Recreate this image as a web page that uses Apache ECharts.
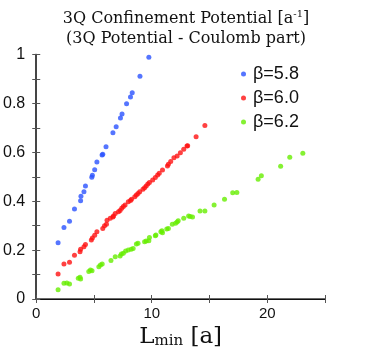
<!DOCTYPE html>
<html>
<head>
<meta charset="utf-8">
<script src="https://cdn.jsdelivr.net/npm/echarts@6/dist/echarts.min.js"></script>
<style>html,body{margin:0;padding:0;background:#fff}#c{width:367px;height:354px}</style>
</head>
<body>
<div id="c"></div>
<script>
const seriesNames = ['β=5.8', 'β=6.0', 'β=6.2'];
const seriesColors = ['#2a52ff', '#ff1212', '#66ee00'];
const xTickLabels = ['0', '10', '20'];
const yTickLabels = ['0', '0.2', '0.4', '0.6', '0.8', '1'];

const beta58 = [
  [1.89,0.230],[2.40,0.292],[2.88,0.318],[3.31,0.368],[3.84,0.402],[3.87,0.420],
  [4.13,0.439],[4.26,0.462],[4.81,0.498],[4.86,0.506],[5.06,0.529],[5.25,0.560],
  [5.70,0.589],[5.76,0.592],[6.04,0.623],[6.64,0.680],[6.92,0.705],[7.29,0.740],
  [7.43,0.757],[7.82,0.799],[8.16,0.826],[8.31,0.844],[8.98,0.911],[9.75,0.989]
];
const beta60 = [
  [1.89,0.102],[2.40,0.143],[2.88,0.150],[3.31,0.179],[3.79,0.193],[3.84,0.203],
  [4.13,0.214],[4.26,0.223],[4.77,0.241],[4.86,0.249],[5.06,0.261],[5.25,0.275],
  [5.76,0.288],[5.91,0.300],[6.08,0.306],[6.13,0.322],[6.41,0.330],[6.64,0.335],
  [6.69,0.339],[6.84,0.350],[7.12,0.357],[7.26,0.362],[7.40,0.371],[7.54,0.378],
  [7.69,0.384],[7.97,0.398],[8.16,0.403],[8.25,0.408],[8.53,0.418],[8.67,0.425],
  [8.81,0.432],[8.96,0.439],[9.24,0.449],[9.38,0.455],[9.52,0.462],[9.66,0.470],
  [9.80,0.476],[10.08,0.487],[10.31,0.497],[10.51,0.507],[10.65,0.514],[10.93,0.528],
  [11.36,0.544],[11.44,0.551],[11.64,0.562],[11.92,0.578],[12.20,0.585],[12.48,0.598],
  [12.77,0.612],[13.05,0.626],[13.11,0.627],[13.84,0.664],[14.60,0.710]
];
const beta62 = [
  [1.89,0.038],[2.40,0.064],[2.65,0.065],[2.88,0.061],[3.64,0.085],[3.79,0.089],
  [3.84,0.082],[4.55,0.112],[4.69,0.119],[4.83,0.116],[5.42,0.132],[5.56,0.139],
  [5.71,0.143],[6.47,0.157],[6.84,0.173],[7.26,0.176],[7.37,0.184],[7.54,0.187],
  [7.74,0.196],[7.97,0.200],[8.22,0.203],[8.39,0.207],[8.67,0.225],[8.81,0.228],
  [9.38,0.234],[9.52,0.237],[9.75,0.238],[9.80,0.252],[10.31,0.259],[10.36,0.262],
  [10.79,0.275],[10.88,0.279],[10.93,0.271],[11.30,0.286],[11.44,0.288],[11.78,0.306],
  [12.06,0.310],[12.20,0.315],[12.29,0.320],[12.77,0.330],[13.19,0.339],[13.33,0.337],
  [13.53,0.335],[14.18,0.360],[14.60,0.360],[15.40,0.384],[16.30,0.408],[17.01,0.435],
  [17.37,0.436],[19.21,0.490],[19.49,0.504],[21.16,0.543],[21.95,0.580],[23.08,0.596]
];
const allData = [beta58, beta60, beta62];

const chart = echarts.init(document.getElementById('c'), null, {renderer: 'canvas'});
const axisLineStyle = {color: '#3a3a3a', width: 1.5};
const xLabelFmt = v => { const s = String(Math.round(v)); return xTickLabels.indexOf(s) >= 0 ? s : ''; };
const yLabelFmt = v => { const s = String(Math.round(v * 10) / 10); return yTickLabels.indexOf(s) >= 0 ? s : ''; };

chart.setOption({
  animation: false,
  title: {
    text: '{a|3Q Confinement Potential [a}{s|-1}{a|]}\n{a|(3Q Potential - Coulomb part)}',
    left: 181, top: 4, textAlign: 'center',
    textStyle: {
      fontWeight: 'normal',
      rich: {
        a: {fontFamily: 'DejaVu Serif', fontSize: 16, fontWeight: 'normal', color: '#111', lineHeight: 20},
        s: {fontFamily: 'DejaVu Serif', fontSize: 10, fontWeight: 'normal', color: '#111', lineHeight: 20, verticalAlign: 'top', padding: [0, 0, 6, 0]}
      }
    }
  },
  legend: {
    orient: 'vertical', left: 236, top: 60,
    icon: 'circle', itemWidth: 5, itemHeight: 5, itemGap: 6,
    textStyle: {fontFamily: 'Liberation Sans', fontSize: 18, color: '#111', lineHeight: 18, padding: [0, 0, 0, 2]},
    data: seriesNames
  },
  grid: {left: 31, right: 42, top: 54.5, bottom: 55},
  xAxis: [{
    type: 'value', min: 0, max: 25, interval: 5, position: 'bottom',
    axisLine: {show: true, lineStyle: axisLineStyle},
    axisTick: {show: true, inside: true, length: 4, lineStyle: {color: '#555', width: 1}},
    axisLabel: {formatter: xLabelFmt, fontFamily: 'Liberation Sans', fontSize: 15, color: '#111', margin: 7},
    splitLine: {show: false},
    name: '{L|L}{m|min}{L| [a]}', nameLocation: 'middle', nameGap: 23,
    nameTextStyle: {
      rich: {
        L: {fontFamily: 'DejaVu Serif', fontSize: 23, color: '#111', verticalAlign: 'bottom', lineHeight: 24},
        m: {fontFamily: 'DejaVu Serif', fontSize: 15, color: '#111', verticalAlign: 'bottom', lineHeight: 19}
      }
    }
  }, {
    type: 'value', min: 0, max: 25, interval: 5, position: 'top',
    axisLine: {show: true, lineStyle: {color: '#111', width: 1}},
    axisTick: {show: true, inside: true, length: 4, lineStyle: {color: '#555', width: 1}},
    axisLabel: {show: false}, splitLine: {show: false}
  }],
  yAxis: [{
    type: 'value', min: 0, max: 1, interval: 0.1, position: 'left',
    axisLine: {show: true, lineStyle: axisLineStyle},
    axisTick: {show: true, inside: true, length: 4, lineStyle: {color: '#555', width: 1}},
    axisLabel: {formatter: yLabelFmt, fontFamily: 'Liberation Sans', fontSize: 16, color: '#111', margin: 11},
    splitLine: {show: false}
  }, {
    type: 'value', min: 0, max: 1, interval: 0.1, position: 'right',
    axisLine: {show: true, lineStyle: axisLineStyle},
    axisTick: {show: true, inside: true, length: 4, lineStyle: {color: '#555', width: 1}},
    axisLabel: {show: false}, splitLine: {show: false}
  }],
  series: allData.map((d, i) => ({
    name: seriesNames[i], type: 'scatter', xAxisIndex: 0, yAxisIndex: 0,
    data: d, symbol: 'circle', symbolSize: 5,
    itemStyle: {color: seriesColors[i]}
  }))
});
</script>
</body>
</html>
